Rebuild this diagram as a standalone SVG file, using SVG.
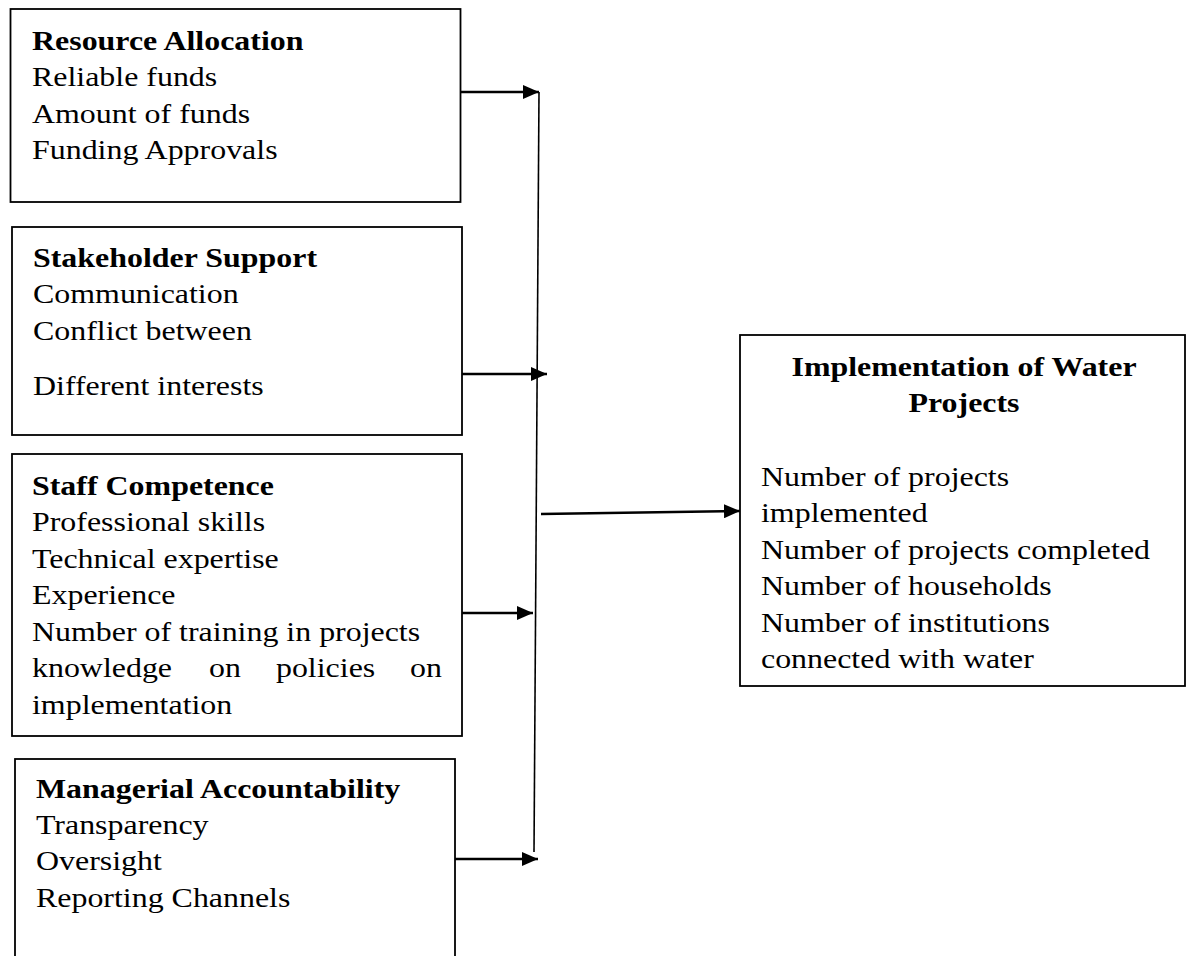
<svg xmlns="http://www.w3.org/2000/svg" width="1190" height="956" viewBox="0 0 1190 956">
<style>
  .box { fill: #ffffff; stroke: #000000; stroke-width: 1.8; }
  .t { font-family: "Liberation Serif", "Times New Roman", serif; font-size: 28px; fill: #000000; }
  .h { font-weight: bold; }
  .c { text-anchor: middle; }
  .arrow { stroke: #000000; stroke-width: 2.4; fill: none; marker-end: url(#ah); }
  .bus { stroke: #000000; stroke-width: 1.6; fill: none; }
</style>
<defs>
  <marker id="ah" viewBox="0 0 16 14" refX="16" refY="7" markerWidth="16" markerHeight="14" markerUnits="userSpaceOnUse" orient="auto">
    <path d="M0,0 L16,7 L0,14 Z" fill="#000000"/>
  </marker>
</defs>
<rect width="1190" height="956" fill="#ffffff"/>

<g id="resource-allocation">
  <rect class="box" x="10.5" y="9" width="450" height="193"/>
  <g transform="translate(32,0) scale(1.14,1)">
    <text class="t h" x="0" y="50">Resource Allocation</text>
    <text class="t" x="0" y="86.5">Reliable funds</text>
    <text class="t" x="0" y="123">Amount of funds</text>
    <text class="t" x="0" y="159.5">Funding Approvals</text>
  </g>
</g>

<g id="stakeholder-support">
  <rect class="box" x="12" y="227" width="450" height="208"/>
  <g transform="translate(33,0) scale(1.14,1)">
    <text class="t h" x="0" y="267">Stakeholder Support</text>
    <text class="t" x="0" y="303">Communication</text>
    <text class="t" x="0" y="340">Conflict between</text>
    <text class="t" x="0" y="395">Different interests</text>
  </g>
</g>

<g id="staff-competence">
  <rect class="box" x="12" y="454" width="450" height="282"/>
  <g transform="translate(32,0) scale(1.14,1)">
    <text class="t h" x="0" y="495">Staff Competence</text>
    <text class="t" x="0" y="531.5">Professional skills</text>
    <text class="t" x="0" y="568">Technical expertise</text>
    <text class="t" x="0" y="604.5">Experience</text>
    <text class="t" x="0" y="641">Number of training in projects</text>
    <text class="t" y="677.5"><tspan x="0">knowledge</tspan><tspan x="155.3">on</tspan><tspan x="214">policies</tspan><tspan x="331.6">on</tspan></text>
    <text class="t" x="0" y="714">implementation</text>
  </g>
</g>

<g id="managerial-accountability">
  <rect class="box" x="15" y="759" width="440" height="210"/>
  <g transform="translate(36,0) scale(1.14,1)">
    <text class="t h" x="0" y="798">Managerial Accountability</text>
    <text class="t" x="0" y="834">Transparency</text>
    <text class="t" x="0" y="870.5">Oversight</text>
    <text class="t" x="0" y="907">Reporting Channels</text>
  </g>
</g>

<g id="implementation-of-water-projects">
  <rect class="box" x="740" y="335" width="445" height="351"/>
  <g transform="translate(964,0) scale(1.14,1)">
    <text class="t h c" x="0" y="376">Implementation of Water</text>
    <text class="t h c" x="0" y="412">Projects</text>
  </g>
  <g transform="translate(761,0) scale(1.14,1)">
    <text class="t" x="0" y="486">Number of projects</text>
    <text class="t" x="0" y="522.5">implemented</text>
    <text class="t" x="0" y="559">Number of projects completed</text>
    <text class="t" x="0" y="595.5">Number of households</text>
    <text class="t" x="0" y="632">Number of institutions</text>
    <text class="t" x="0" y="668.5">connected with water</text>
  </g>
</g>

<g id="connectors">
  <line class="bus" x1="539" y1="92" x2="534" y2="852"/>
  <line class="arrow" x1="461" y1="92" x2="539" y2="92"/>
  <line class="arrow" x1="462" y1="374" x2="547" y2="374"/>
  <line class="arrow" x1="462" y1="613" x2="533" y2="613"/>
  <line class="arrow" x1="455" y1="859" x2="538" y2="859"/>
  <line class="arrow" x1="541" y1="514" x2="740" y2="511"/>
</g>
</svg>
